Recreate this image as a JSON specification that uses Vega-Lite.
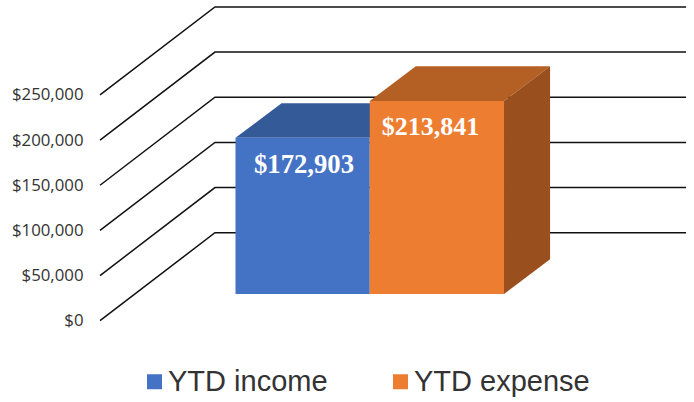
{"$schema":"https://vega.github.io/schema/vega-lite/v6.json","width":694,"height":402,"autosize":"none","padding":0,"background":"white","config":{"view":{"stroke":null}},
"datasets":{
"grid":[{"tick":0,"x":-1.009,"y":0},{"tick":0,"x":-0.153,"y":97453},{"tick":0,"x":3.356,"y":97453},
{"tick":50000,"x":-1.009,"y":50000},{"tick":50000,"x":-0.153,"y":147453},{"tick":50000,"x":3.356,"y":147453},
{"tick":100000,"x":-1.009,"y":100000},{"tick":100000,"x":-0.153,"y":197453},{"tick":100000,"x":3.356,"y":197453},
{"tick":150000,"x":-1.009,"y":150000},{"tick":150000,"x":-0.153,"y":247453},{"tick":150000,"x":3.356,"y":247453},
{"tick":200000,"x":-1.009,"y":200000},{"tick":200000,"x":-0.153,"y":297453},{"tick":200000,"x":3.356,"y":297453},
{"tick":250000,"x":-1.009,"y":250000},{"tick":250000,"x":-0.153,"y":347453},{"tick":250000,"x":3.356,"y":347453}],
"front":[{"series":"YTD income","x":0,"x2":1,"y":29568,"y2":202471},{"series":"YTD expense","x":1,"x2":2,"y":29568,"y2":243409}]
},
"layer":[
{"data":{"name":"grid"},"mark":{"type":"line","color":"#111111","strokeWidth":1.5},
 "encoding":{"x":{"field":"x","type":"quantitative","scale":{"domain":[-1.754,3.415],"nice":false,"zero":false},"axis":null},
 "y":{"field":"y","type":"quantitative","scale":{"domain":[-90033,355150],"nice":false,"zero":false},
  "axis":{"values":[0,50000,100000,150000,200000,250000],"format":"$,.0f","title":null,"grid":false,"domain":false,"ticks":false,"offset":-87,"labelPadding":4,"labelFont":"Open Sans","labelFontSize":16.8,"labelColor":"#333333"}},
 "detail":{"field":"tick"},"order":{"field":"x"}}},
{"data":{"values":[{"y":202471,"x":0,"x2":1},{"y":240901,"x":0.343,"x2":1.343}]},"mark":{"type":"area","orient":"horizontal","fill":"#355A98"},
 "encoding":{"y":{"field":"y","type":"quantitative"},"x":{"field":"x","type":"quantitative","stack":null},"x2":{"field":"x2"}}},
{"data":{"name":"front"},"transform":[{"filter":"datum.series==='YTD income'"}],"mark":{"type":"rect"},
 "encoding":{"x":{"field":"x","type":"quantitative"},"x2":{"field":"x2"},"y":{"field":"y","type":"quantitative"},"y2":{"field":"y2"},
 "color":{"field":"series","type":"nominal","scale":{"domain":["YTD income","YTD expense"],"range":["#4472C4","#ED7D31"]},
  "legend":{"title":null,"orient":"none","legendX":140,"legendY":367,"direction":"horizontal","symbolType":"square","symbolSize":225,"symbolStrokeWidth":0,"symbolOpacity":1,"labelFont":"Liberation Sans","labelFontSize":29,"labelColor":"#333333","labelLimit":300,"columnPadding":58,"labelOffset":-1}}}},
{"data":{"values":[{"y":243409,"x":1,"x2":2},{"y":281839,"x":1.343,"x2":2.343}]},"mark":{"type":"area","orient":"horizontal","fill":"#B45F24"},
 "encoding":{"y":{"field":"y","type":"quantitative"},"x":{"field":"x","type":"quantitative","stack":null},"x2":{"field":"x2"}}},
{"data":{"values":[{"x":2,"y":29568,"y2":243409},{"x":2.343,"y":67998,"y2":281839}]},"mark":{"type":"area","fill":"#99501E"},
 "encoding":{"x":{"field":"x","type":"quantitative"},"y":{"field":"y","type":"quantitative","stack":null},"y2":{"field":"y2"}}},
{"data":{"name":"front"},"transform":[{"filter":"datum.series==='YTD expense'"}],"mark":{"type":"rect"},
 "encoding":{"x":{"field":"x","type":"quantitative"},"x2":{"field":"x2"},"y":{"field":"y","type":"quantitative"},"y2":{"field":"y2"},"color":{"field":"series","type":"nominal"}}},
{"data":{"values":[{"series":"YTD income","value":172903,"x":0.51,"y":172000}]},"mark":{"type":"text","font":"Liberation Serif","fontSize":26.7,"fontWeight":"bold","fill":"white","align":"center","baseline":"middle"},
 "encoding":{"x":{"field":"x","type":"quantitative"},"y":{"field":"y","type":"quantitative"},"text":{"field":"value","type":"quantitative","format":"$,.0f"}}},
{"data":{"values":[{"series":"YTD expense","value":213841,"x":1.452,"y":214000}]},"mark":{"type":"text","font":"Liberation Serif","fontSize":26,"fontWeight":"bold","fill":"white","align":"center","baseline":"middle"},
 "encoding":{"x":{"field":"x","type":"quantitative"},"y":{"field":"y","type":"quantitative"},"text":{"field":"value","type":"quantitative","format":"$,.0f"}}}
]}
